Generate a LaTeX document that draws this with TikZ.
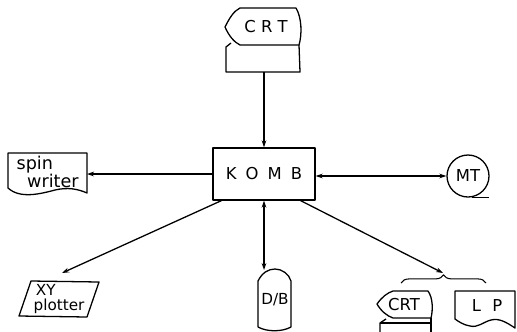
\documentclass[tikz,border=0pt]{standalone}
\usepackage{fontspec}
\setmainfont{DejaVu Sans}
\usetikzlibrary{arrows.meta,decorations.pathreplacing,calc}
\begin{document}
\begin{tikzpicture}[x=0.03cm,y=-0.03cm, line width=1.1pt, line join=round,
  lbl/.style={inner sep=0pt, font=\fontsize{14}{15}\selectfont},
  arr/.style={-{Stealth[length=6pt,width=4pt]}},
  darr/.style={{Stealth[length=6pt,width=4pt]}-{Stealth[length=6pt,width=4pt]}}]
\useasboundingbox (0,0) rectangle (517,331);

% ---- central box
\node[draw, minimum width=3.06cm, minimum height=1.56cm, lbl] (komb) at (264,174)
  {K\hspace{0.55em}O\hspace{0.55em}M\hspace{0.55em}B};

% ---- top CRT
\draw (225,27) .. controls (230,17) and (234,11) .. (240,8) -- (296,8)
  .. controls (302,18) and (302,35) .. (299,45) -- (240,45)
  .. controls (234,42) and (229,36) .. (225,27) -- cycle;
\node[lbl] (crttop) at (266,27) {C R T};
\draw (231,43) -- (226,47) -- (226,72) -- (300,72) -- (299,45);
\coordinate (crtbox) at (264,72);
\draw[arr] (crtbox) -- (komb.north);

% ---- spin writer
\draw (8,153) -- (87,153) -- (87,193)
  .. controls (78,189) and (68,187) .. (55,190)
  .. controls (40,194) and (20,199) .. (8,188) -- cycle;
\node[inner sep=0pt, align=left, anchor=west, font=\fontsize{15}{14.5}\selectfont] (spin) at (16,172)
  {spin\\\hspace*{9pt}writer};
\coordinate (spinR) at (87,174);
\draw[arr] (komb.west) -- (spinR);

% ---- MT
\node[draw, circle, minimum size=1.26cm, lbl] (mt) at (468,176) {MT};
\draw ($(mt.south)+(4,0)$) -- ++(17,0);
\draw[darr] (komb.east |- mt.west) -- (mt.west);

% ---- XY plotter
\draw (31,281) -- (99,282) -- (87,317) -- (19,316) -- cycle;
\node[inner sep=0pt, align=left, anchor=west, font=\fontsize{13}{12.5}\selectfont] (xy) at (33,299)
  {\hspace*{2pt}XY\\plotter};
\coordinate (xyin) at (62,273);
\draw[arr] ($(komb.south west)+(9,0)$) -- (xyin);

% ---- D/B
\draw (258,327) -- (258,281) .. controls (262,273) and (268,269) .. (275,269)
  .. controls (282,269) and (289,274) .. (291,281) -- (291,327)
  .. controls (282,332) and (267,332) .. (258,327);
\node[inner sep=0pt, font=\fontsize{13}{14}\selectfont] (db) at (275,300) {D/B};
\coordinate (dbtop) at (264,270);
\draw[darr] (komb.south) -- (dbtop);

% ---- brace group
\coordinate (brL) at (401,283);
\coordinate (brR) at (486,283);
\draw[line width=0.9pt, decorate, decoration={brace, amplitude=7pt}] (brL) -- (brR);
\coordinate (brtip) at (443,273);
\draw[arr] ($(komb.south east)+(-15,0)$) -- (brtip);

% ---- bottom CRT
\draw (377,304) .. controls (382,297) and (387,293) .. (393,291) -- (428,291)
  .. controls (433,298) and (433,310) .. (431,318) -- (393,318)
  .. controls (387,316) and (381,311) .. (377,304) -- cycle;
\node[lbl] (crtbot) at (404,305) {CRT};
\draw (386,319) -- (380,323) -- (380,333);
\draw (380,323) -- (431,323);
\draw (431,318) -- (431,333);

% ---- LP
\draw (455,291) -- (515,291) -- (515,328)
  .. controls (506,322) and (499,318) .. (491,320)
  .. controls (483,322) and (478,328) .. (470,326)
  .. controls (464,325) and (459,322) .. (455,319) -- cycle;
\node[lbl] (lp) at (487,306) {L\hspace{0.7em}P};
\end{tikzpicture}
\end{document}
